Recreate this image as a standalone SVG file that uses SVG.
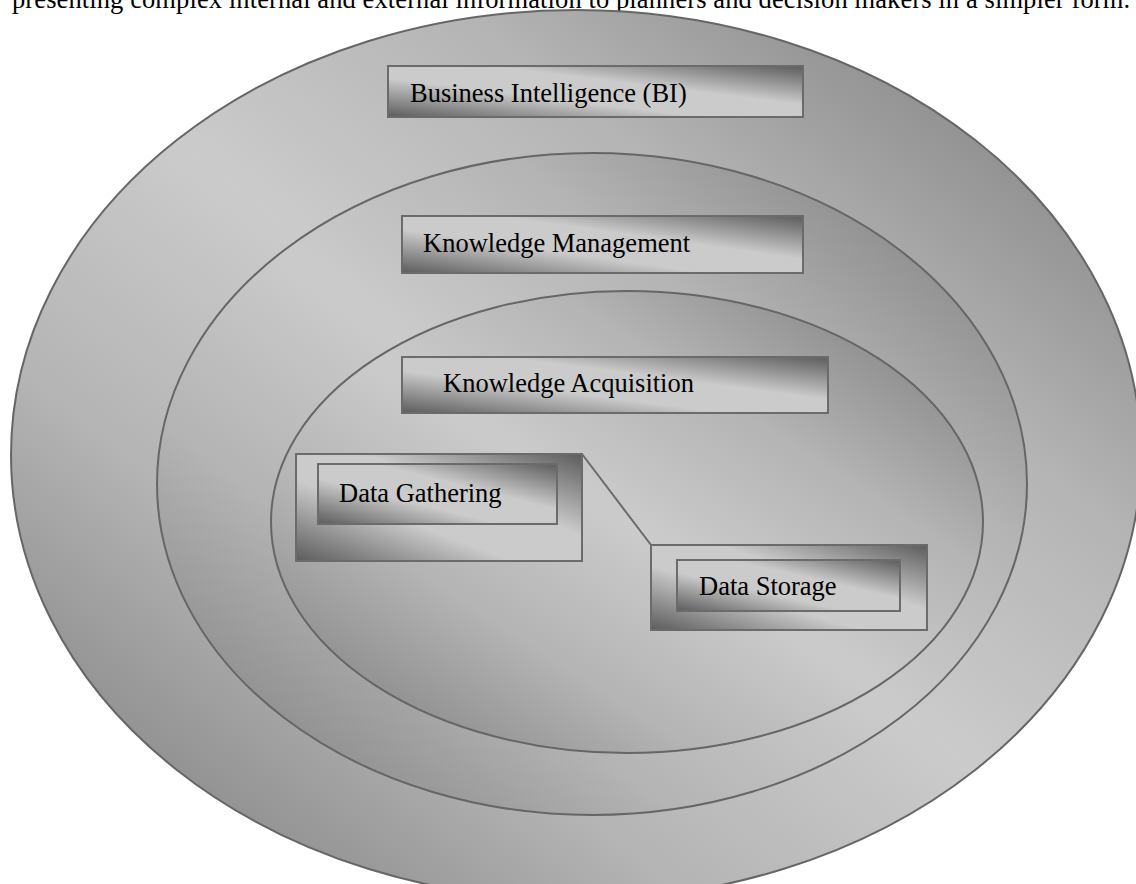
<svg xmlns="http://www.w3.org/2000/svg" width="1136" height="884" viewBox="0 0 1136 884">
  <defs>
    <!-- reflected diagonal shading: dark at bottom-left and top-right, broad light band through the middle -->
    <linearGradient id="ringShade" x1="0" y1="1" x2="1" y2="0">
      <stop offset="0" stop-color="#747474"/>
      <stop offset="0.3" stop-color="#b4b4b4"/>
      <stop offset="0.5" stop-color="#cbcbcb"/>
      <stop offset="0.7" stop-color="#b4b4b4"/>
      <stop offset="1" stop-color="#747474"/>
    </linearGradient>
    <linearGradient id="boxShade" x1="0" y1="1" x2="1" y2="0">
      <stop offset="0" stop-color="#5c5c5c"/>
      <stop offset="0.38" stop-color="#cbcbcb"/>
      <stop offset="0.62" stop-color="#cbcbcb"/>
      <stop offset="1" stop-color="#5c5c5c"/>
    </linearGradient>
  </defs>
  <style>
    .ring { fill: url(#ringShade); stroke: #666666; stroke-width: 2; }
    .box { fill: url(#boxShade); stroke: #6b6b6b; stroke-width: 2; }
    .label { font-family: "Liberation Serif", "Times New Roman", serif; font-size: 26.5px; fill: #000000; }
    .link { stroke: #6b6b6b; stroke-width: 2; fill: none; }
  </style>

  <rect width="1136" height="884" fill="#ffffff"/>

  <!-- caption line running off the top edge -->
  <text class="label" x="12" y="8" textLength="1118" lengthAdjust="spacing">presenting complex internal and external information to planners and decision makers in a simpler form.</text>

  <!-- nested rings -->
  <g id="ring-bi">
    <ellipse class="ring" cx="576" cy="455" rx="565" ry="445"/>
  </g>
  <g id="ring-km">
    <ellipse class="ring" cx="592" cy="484" rx="435" ry="331"/>
  </g>
  <g id="ring-ka">
    <ellipse class="ring" cx="627" cy="522" rx="356" ry="231"/>
  </g>

  <!-- connectors -->
  <g id="connectors">
    <line class="link" x1="582" y1="454" x2="651" y2="545"/>
  </g>

  <!-- labelled boxes -->
  <g id="node-bi">
    <rect class="box" x="388" y="66" width="415" height="51"/>
    <text class="label" x="410" y="102">Business Intelligence (BI)</text>
  </g>
  <g id="node-km">
    <rect class="box" x="402" y="216" width="401" height="57"/>
    <text class="label" x="423" y="252">Knowledge Management</text>
  </g>
  <g id="node-ka">
    <rect class="box" x="402" y="357" width="426" height="56"/>
    <text class="label" x="443" y="392">Knowledge Acquisition</text>
  </g>
  <g id="node-gathering">
    <rect class="box" x="296" y="454" width="286" height="107"/>
    <rect class="box" x="318" y="464" width="239" height="60"/>
    <text class="label" x="339" y="502">Data Gathering</text>
  </g>
  <g id="node-storage">
    <rect class="box" x="651" y="545" width="276" height="85"/>
    <rect class="box" x="677" y="560" width="223" height="51"/>
    <text class="label" x="699" y="595">Data Storage</text>
  </g>
</svg>
